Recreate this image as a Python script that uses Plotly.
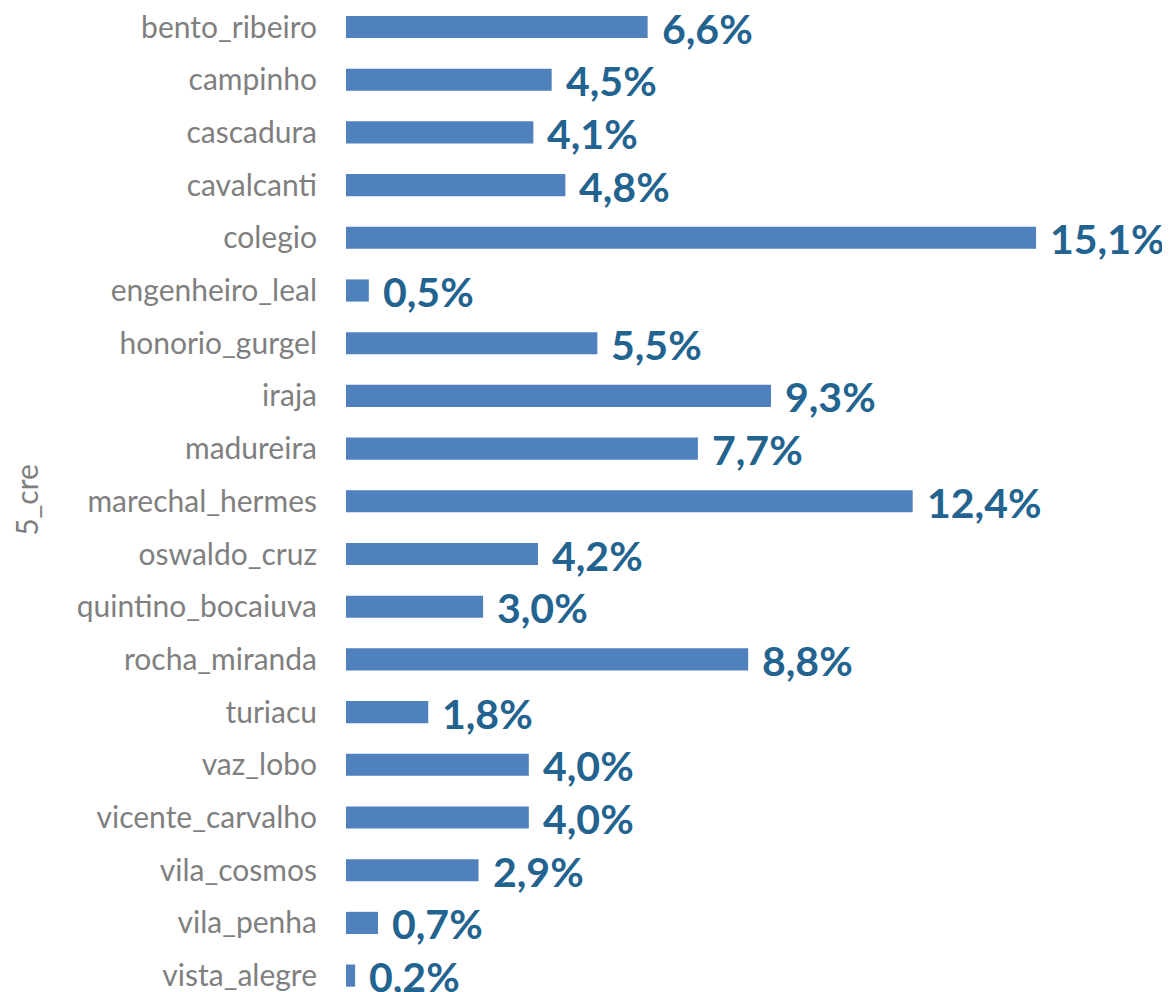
import plotly.graph_objects as go

categories = ["bento_ribeiro", "campinho", "cascadura", "cavalcanti", "colegio",
              "engenheiro_leal", "honorio_gurgel", "iraja", "madureira",
              "marechal_hermes", "oswaldo_cruz", "quintino_bocaiuva",
              "rocha_miranda", "turiacu", "vaz_lobo", "vicente_carvalho",
              "vila_cosmos", "vila_penha", "vista_alegre"]
values = [6.6, 4.5, 4.1, 4.8, 15.1, 0.5, 5.5, 9.3, 7.7, 12.4, 4.2, 3.0, 8.8,
          1.8, 4.0, 4.0, 2.9, 0.7, 0.2]
labels = [f"{v:.1f}%".replace(".", ",") for v in values]
axis_title = "5_cre"

fig = go.Figure(go.Bar(
    x=values, y=categories, orientation="h",
    marker=dict(color="#4F81BD", line=dict(width=0)),
    width=0.42,
    hoverinfo="skip",
))

for cat, v, lab in zip(categories, values, labels):
    fig.add_annotation(x=v, y=cat, text=lab, showarrow=False,
                       xanchor="left", yanchor="middle", xshift=13, yshift=-1,
                       borderpad=0,
                       font=dict(family="Lato", size=41, color="#22638F", weight="bold"))

fig.update_layout(
    width=1162, height=984,
    margin=dict(l=338, r=0, t=0, b=0),
    paper_bgcolor="white", plot_bgcolor="white",
    showlegend=False,
    xaxis=dict(range=[0, 18.03], visible=False, showgrid=False, zeroline=False),
    yaxis=dict(range=[18.311, -0.3605], showgrid=False, zeroline=False,
               showline=False, ticks="", ticklabelstandoff=28,
               tickfont=dict(family="Lato", size=30, color="#7F7F7F"),
               title=dict(text=axis_title, standoff=44,
                          font=dict(family="Lato", size=30, color="#7F7F7F"))),
)

fig.write_html("out.html")
